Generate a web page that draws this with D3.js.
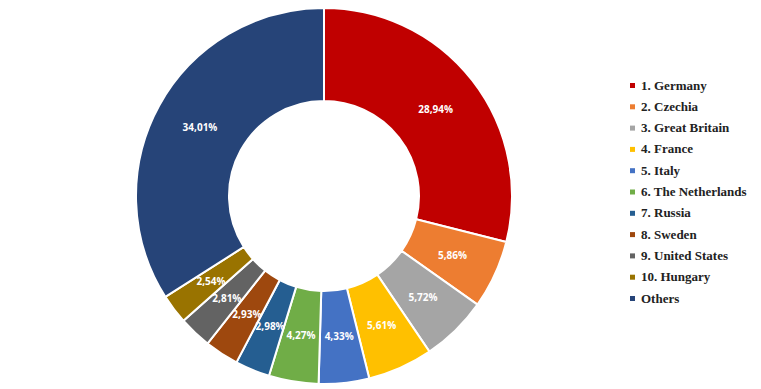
<!DOCTYPE html>
<html>
<head>
<meta charset="utf-8">
<script src="https://cdn.jsdelivr.net/npm/d3@7"></script>
<style>
  body { margin: 0; background: #fff; }
</style>
</head>
<body>
<div id="chart"></div>
<script>
const countries = ["1. Germany", "2. Czechia", "3. Great Britain", "4. France", "5. Italy",
  "6. The Netherlands", "7. Russia", "8. Sweden", "9. United States", "10. Hungary", "Others"];
const shares = [28.94, 5.86, 5.72, 5.61, 4.33, 4.27, 2.98, 2.93, 2.81, 2.54, 34.01];
const colors = ["#C00000", "#ED7D31", "#A5A5A5", "#FFC000", "#4472C4", "#70AD47",
  "#255E91", "#9E480E", "#636363", "#997300", "#264478"];

const width = 761, height = 389;
const cx = 324, cy = 196, outerR = 188, innerR = 95;

const svg = d3.select("#chart").append("svg")
  .attr("width", width)
  .attr("height", height);

const g = svg.append("g").attr("transform", "translate(" + cx + "," + cy + ")");

const pie = d3.pie().sort(null).value(d => d.v);
const arc = d3.arc().innerRadius(innerR).outerRadius(outerR);

const data = countries.map((c, i) => ({ name: c, v: shares[i], color: colors[i] }));
const arcs = pie(data);

g.selectAll("path")
  .data(arcs)
  .join("path")
  .attr("d", arc)
  .attr("fill", d => d.data.color)
  .attr("stroke", "#fff")
  .attr("stroke-width", 2);

// étiquettes en pourcentage
const fmt = v => v.toFixed(2).replace(".", ",") + "%";
g.selectAll("text.lbl")
  .data(arcs)
  .join("text")
  .attr("class", "lbl")
  .attr("transform", d => "translate(" + arc.centroid(d) + ")")
  .attr("text-anchor", "middle")
  .attr("dy", "0.35em")
  .attr("font-family", "'Open Sans', sans-serif")
  .attr("font-weight", "bold")
  .attr("font-size", "10px")
  .attr("fill", "#fff")
  .text(d => fmt(d.data.v));

// légende
const legend = svg.append("g").attr("transform", "translate(630,85)");
const rowH = 21.3;
const item = legend.selectAll("g")
  .data(data)
  .join("g")
  .attr("transform", (d, i) => "translate(0," + (i * rowH) + ")");

item.append("rect")
  .attr("x", 0).attr("y", -2)
  .attr("width", 5).attr("height", 5)
  .attr("fill", d => d.color);

item.append("text")
  .attr("x", 11)
  .attr("dy", "0.35em")
  .attr("font-family", "'Liberation Serif', serif")
  .attr("font-weight", "bold")
  .attr("font-size", "13px")
  .attr("fill", "#222")
  .text(d => d.name);
</script>
</body>
</html>
